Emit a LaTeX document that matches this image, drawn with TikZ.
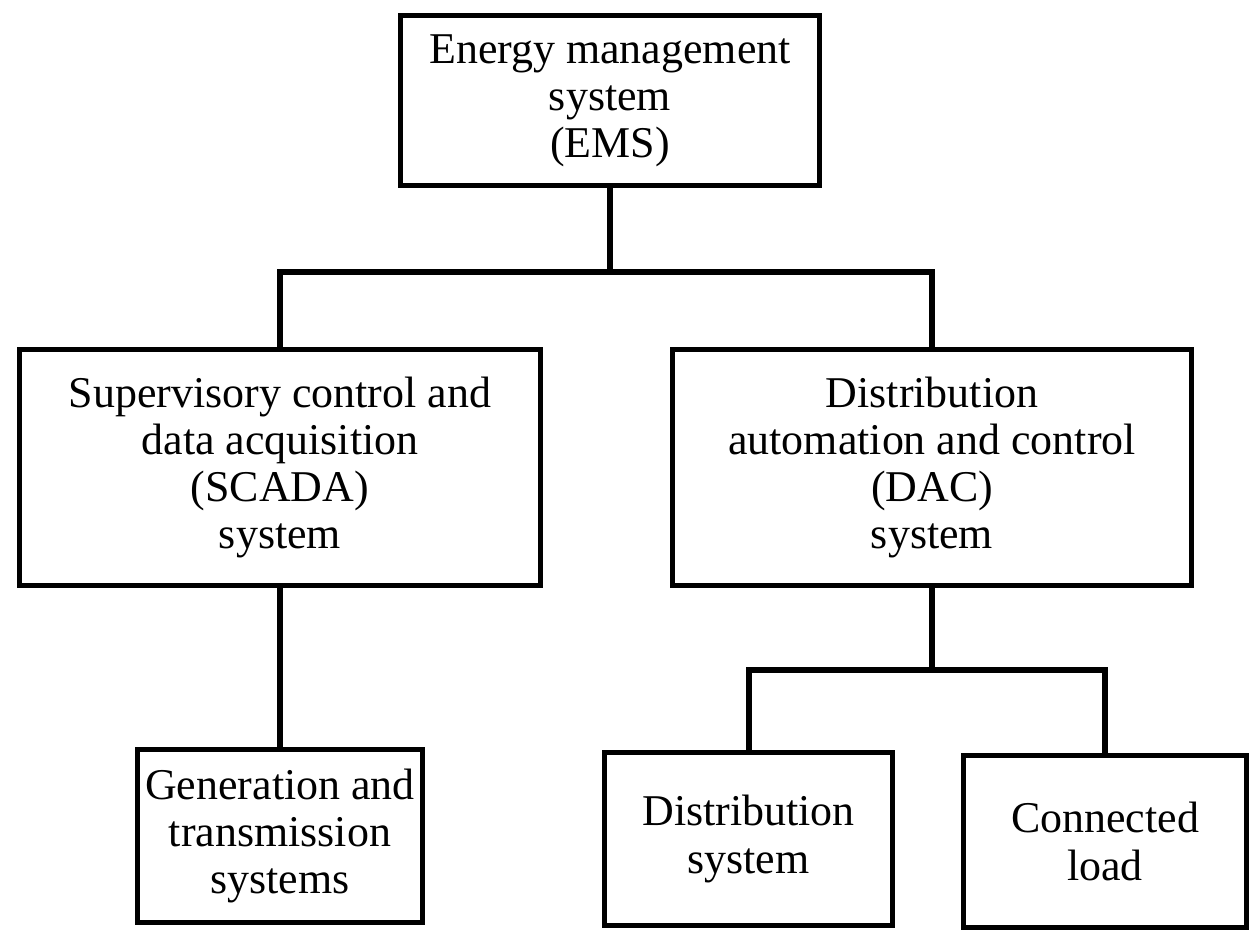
\documentclass[tikz,border=0pt]{standalone}
\usepackage{fontspec}
\setmainfont{Liberation Serif}
\usepackage{tikz}
\usetikzlibrary{positioning}

\begin{document}
\begin{tikzpicture}[x=0.2mm,y=-0.2mm,
  box/.style={draw, line width=1mm, align=center, inner sep=0pt,
    font=\fontsize{25}{26.8}\selectfont},
  link/.style={line width=1.2mm}]

\useasboundingbox (0,0) rectangle (1250,937);

% the boxes
\node[box, minimum width=83.8mm, minimum height=34mm] (ems) at (610,100.5)
  {Energy management\\system\\(EMS)};
\node[box, minimum width=104.2mm, minimum height=47.2mm] (scada) at (280,467.5)
  {Supervisory control and\\data acquisition\\(SCADA)\\system};
\node[box, minimum width=103.8mm, minimum height=47.2mm] (dac) at (932,467.5)
  {Distribution\\automation and control\\(DAC)\\system};
\node[box, minimum width=56.8mm, minimum height=34.6mm] (gen) at (280,836)
  {Generation and\\transmission\\systems};
\node[box, minimum width=57.6mm, minimum height=34.6mm] (dist) at (748.5,839)
  {Distribution\\system};
\node[box, minimum width=56.6mm, minimum height=34.4mm] (load) at (1105,841.5)
  {Connected\\load};

% the connectors
\coordinate (bus) at (610,272);
\coordinate (dacbus) at (932,670);

\draw[link] (ems.south) -- (bus);
\draw[link] (scada.north) |- (bus) -| (dac.north);
\draw[link] (scada.south) -- (gen.north);
\draw[link] (dac.south) -- (dacbus);
\draw[link] (dist.north) |- (dacbus) -| (load.north);

\end{tikzpicture}
\end{document}
